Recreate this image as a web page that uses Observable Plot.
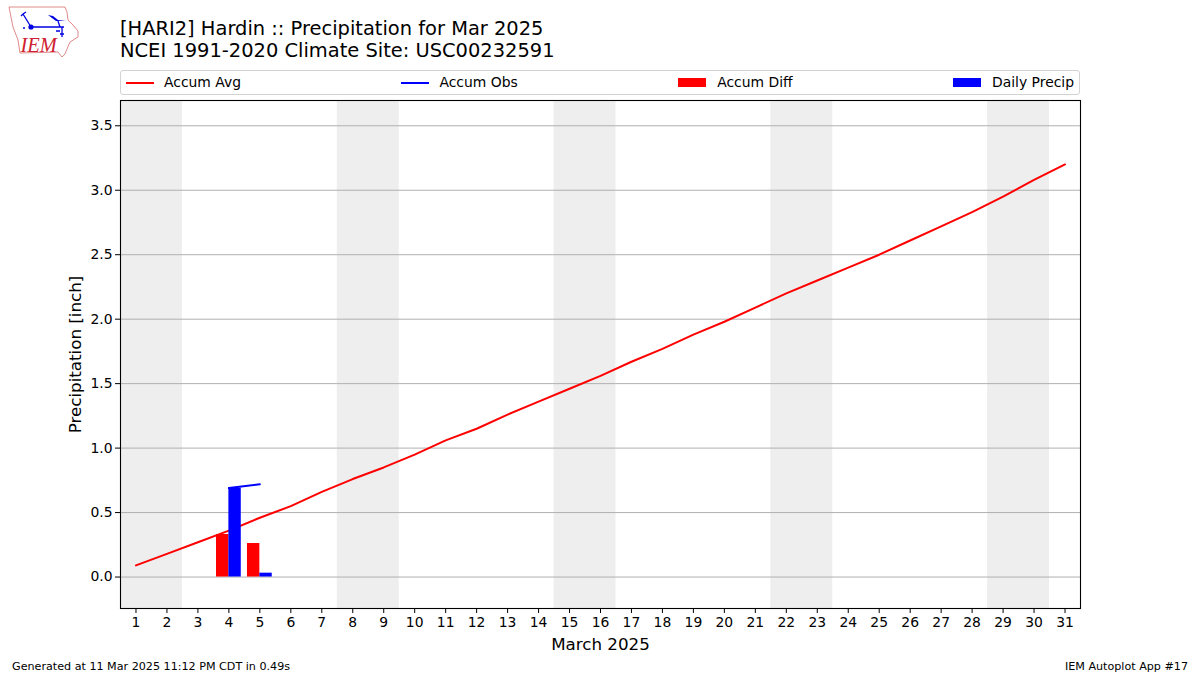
<!DOCTYPE html>
<html>
<head>
<meta charset="utf-8">
<script src="https://cdn.jsdelivr.net/npm/d3@7"></script>
<script src="https://cdn.jsdelivr.net/npm/@observablehq/plot@0.6"></script>
<style>
  html, body { margin: 0; padding: 0; background: #fff; width: 1200px; height: 675px; overflow: hidden; font-family: "DejaVu Sans", sans-serif; color: #000; }
  #logo { position: absolute; left: 0; top: 0; width: 80px; height: 60px; }
  #title { height: 70px; box-sizing: border-box; padding: 18px 0 0 120px; font-size: 19.45px; line-height: 22px; }
  #legend { margin-left: 120px; margin-bottom: 1px; width: 960px; height: 25px; box-sizing: border-box; border: 1px solid #d3d3d3; border-radius: 3px; display: flex; justify-content: space-between; align-items: center; padding: 0 5px; font-size: 13.9px; line-height: 21px; }
  .item { display: flex; align-items: center; }
  .key { width: 28px; margin-right: 10px; }
  .line { height: 2px; }
  .swatch { height: 9px; margin-right: 11px; }
  #chart { height: 559px; }
  #chart svg { display: block; }
  #footer { display: flex; justify-content: space-between; padding: 0 12px; font-size: 11.15px; line-height: 13px; margin-top: 5px; }
</style>
</head>
<body>
<svg id="logo" viewBox="0 0 80 60">
  <path d="M9 7 L65 7 L67 12 L68 20 L73 25 L78 31 L78 37 L70 42 L67 49 L65 54 L62 57 L58 52 L20 53 L18 40 L13 27 L11 17 Z" fill="none" stroke="#e08a8a" stroke-width="1"/>
  <g stroke="#0000e0" fill="none" stroke-width="1.3">
    <path d="M31 27 H64"/><path d="M31 27 L23 14 L21 16 M23 14 L26 12"/><path d="M58 21 L60 27"/><path d="M62 27 V37 M56 31 H60 M60 34 H64"/>
  </g>
  <circle cx="31" cy="27" r="2.6" fill="#0000e0"/>
  <path d="M48 15 L53 16 L58 20 L66 21 L56 21 Z" fill="#0000e0"/>
  <circle cx="24" cy="28" r="1" fill="#0000e0"/>
  <text x="20.5" y="52" font-family="Liberation Serif" font-style="italic" font-size="20.5" fill="#d02030">IEM</text>
</svg>
<div id="title">[HARI2] Hardin :: Precipitation for Mar 2025<br>NCEI 1991-2020 Climate Site: USC00232591</div>
<div id="legend">
  <div class="item"><div class="key line" style="background:#ff0000"></div>Accum Avg</div>
  <div class="item"><div class="key line" style="background:#0000ff"></div>Accum Obs</div>
  <div class="item"><div class="key swatch" style="background:#ff0000"></div>Accum Diff</div>
  <div class="item"><div class="key swatch" style="background:#0000ff"></div>Daily Precip</div>
</div>
<div id="chart"></div>
<div id="footer"><span>Generated at 11 Mar 2025 11:12 PM CDT in 0.49s</span><span>IEM Autoplot App #17</span></div>
<script>
const days = d3.range(1, 32);
const accumAvg = [0.09,0.18,0.27,0.36,0.46,0.55,0.66,0.76,0.85,0.95,1.06,1.15,1.26,1.36,1.46,1.56,1.67,1.77,1.88,1.98,2.09,2.20,2.30,2.40,2.50,2.61,2.72,2.83,2.95,3.08,3.20];
const obsDays = [4, 5];
const accumObs = [0.69, 0.72];
const accumDiff = [0.33, 0.26];
const dailyPrecip = [0.69, 0.03];
const weekendStart = [0.5, 7.5, 14.5, 21.5, 28.5];
const weekendEnd = [2.5, 9.5, 16.5, 23.5, 30.5];
const yTicks = [0, 0.5, 1, 1.5, 2, 2.5, 3, 3.5];
const yDomain = [-0.244, 3.696];
const barWidth = 0.4;

const avgRows = days.map((d, i) => ({d, v: accumAvg[i]}));
const obsRows = obsDays.map((d, i) => ({d, v: accumObs[i]}));
const diffRows = obsDays.map((d, i) => ({x1: d - barWidth, x2: d, v: accumDiff[i]}));
const precipRows = obsDays.map((d, i) => ({x1: d, x2: d + barWidth, v: dailyPrecip[i]}));
const weekendRows = weekendStart.map((s, i) => ({s, e: weekendEnd[i]}));

const plot = Plot.plot({
  width: 1200, height: 559,
  marginLeft: 120, marginRight: 120, marginTop: 4, marginBottom: 47,
  style: {fontFamily: "DejaVu Sans", fontSize: "13.9px", color: "#000", background: "#fff"},
  x: {domain: [0.5, 31.5]},
  y: {domain: yDomain},
  marks: [
    Plot.rectY(weekendRows, {x1: "s", x2: "e", y1: yDomain[0], y2: yDomain[1], fill: "#eeeeee"}),
    Plot.ruleY(yTicks, {stroke: "#b0b0b0", strokeWidth: 1}),
    Plot.line(avgRows, {x: "d", y: "v", stroke: "#ff0000", strokeWidth: 2, curve: "linear"}),
    Plot.rectY(diffRows, {x1: "x1", x2: "x2", y1: 0, y2: "v", fill: "#ff0000", inset: 0}),
    Plot.rectY(precipRows, {x1: "x1", x2: "x2", y1: 0, y2: "v", fill: "#0000ff", inset: 0}),
    Plot.line(obsRows, {x: "d", y: "v", stroke: "#0000ff", strokeWidth: 2}),
    Plot.frame({stroke: "#000", strokeWidth: 1.1}),
    Plot.axisX({ticks: days, tickFormat: d => String(d), tickSize: 5, tickPadding: 4, label: "March 2025", labelAnchor: "center", labelArrow: "none", labelOffset: 41, fontSize: 13.9}),
    Plot.axisY({ticks: yTicks, tickFormat: d3.format(".1f"), tickSize: 5, tickPadding: 3, label: "Precipitation [inch]", labelAnchor: "center", labelArrow: "none", labelOffset: 51, fontSize: 13.9})
  ]
});
document.getElementById("chart").appendChild(plot);
d3.select(plot).selectAll("[aria-label='x-axis label'] text, [aria-label='y-axis label'] text").style("font-size", "16.7px");
d3.select(plot).selectAll("[aria-label='x-axis label'], [aria-label='y-axis label']").style("font-size", "16.7px");
</script>
</body>
</html>
